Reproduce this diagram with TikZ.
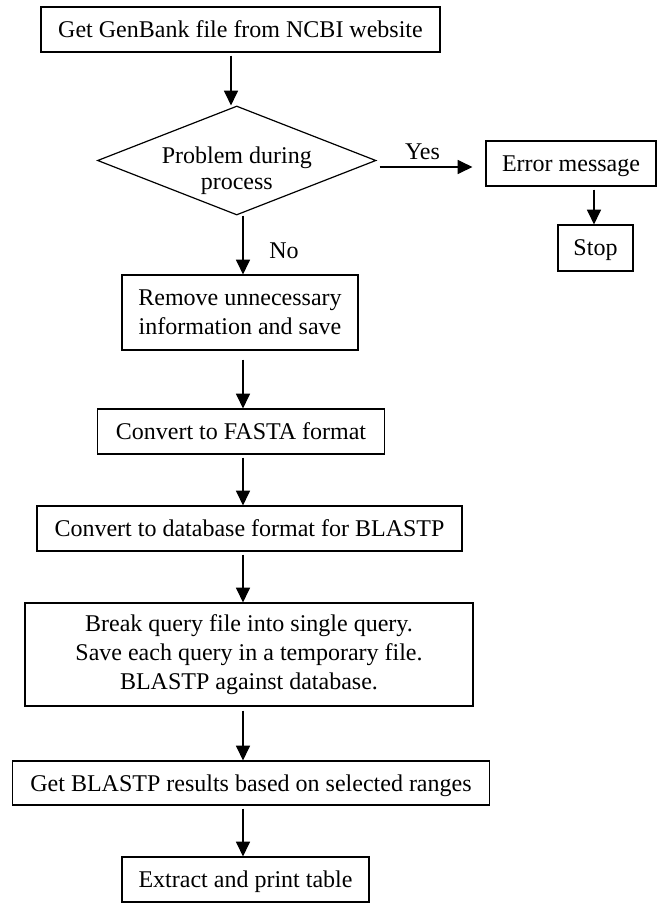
\documentclass[tikz,border=0pt]{standalone}
\usepackage{fontspec}
\setmainfont{Liberation Serif}
\usetikzlibrary{shapes.geometric,arrows.meta}
\begin{document}
\begin{tikzpicture}[x=0.75pt,y=-0.75pt,
  every node/.style={font=\fontsize{18}{21.5}\selectfont},
  sz/.style 2 args={minimum width=#1*0.75pt,minimum height=#2*0.75pt},
  box/.style={draw,line width=0.9pt,rectangle,inner sep=0pt,align=center},
  oneline/.style={text depth=0pt},
  decision/.style={draw,line width=0.9pt,diamond,inner sep=0pt},
  arr/.style={-{Triangle[length=11pt,width=10.5pt]},line width=0.9pt},
  lbl/.style={inner sep=0pt}
]
\useasboundingbox (0,0) rectangle (660,904);

% process boxes and the decision
\node[box,oneline,sz={399}{45}] (get) at (240.5,29.5) {Get GenBank file from NCBI website};
\node[decision,sz={278.5}{109},
      label={[lbl,align=center,font=\fontsize{18}{20}\selectfont,yshift=-7.7pt]center:Problem during\\process}] (dec) at (236.75,160.5) {};
\node[box,oneline,sz={170}{45}] (err) at (571,163.5) {Error message};
\node[box,oneline,sz={75}{46}] (stop) at (595.5,248) {Stop};
\node[box,sz={236}{75}] (rem) at (240,312.5) {Remove unnecessary\\information and save};
\node[box,oneline,sz={287}{45}] (fasta) at (241,431.5) {Convert to FASTA format};
\node[box,oneline,sz={425}{45}] (db) at (249.5,528.5) {Convert to database format for BLASTP};
\node[box,sz={448}{103}] (brk) at (249,654.5) {Break query file into single query.\\Save each query in a temporary file.\\BLASTP against database.};
\node[box,oneline,sz={477}{44}] (res) at (251,783) {Get BLASTP results based on selected ranges};
\node[box,oneline,sz={247}{45}] (ext) at (245.5,879.5) {Extract and print table};

% branch labels
\node[lbl,anchor=base] (yes) at (422.5,159) {Yes};
\node[lbl,anchor=base] (no) at (284,258) {No};

% connector guide lines
\coordinate (topx) at (231,0);
\coordinate (colx) at (243,0);
\coordinate (stopx) at (594,0);
\coordinate (yesy) at (0,167);

% connectors
\draw[arr,shorten <=2.25pt] (get.south -| topx) -- (dec.north -| topx);
\draw[arr] (dec.south -| colx) -- (rem.north -| colx);
\draw[arr,shorten <=2.25pt,shorten >=9.75pt] (dec.east |- yesy) -- (err.west |- yesy);
\draw[arr,shorten <=2.25pt] (err.south -| stopx) -- (stop.north -| stopx);
\draw[arr,shorten <=6.75pt] (rem.south -| colx) -- (fasta.north -| colx);
\draw[arr,shorten <=2.25pt] (fasta.south -| colx) -- (db.north -| colx);
\draw[arr,shorten <=2.25pt] (db.south -| colx) -- (brk.north -| colx);
\draw[arr,shorten <=3pt] (brk.south -| colx) -- (res.north -| colx);
\draw[arr,shorten <=2.25pt] (res.south -| colx) -- (ext.north -| colx);
\end{tikzpicture}
\end{document}
